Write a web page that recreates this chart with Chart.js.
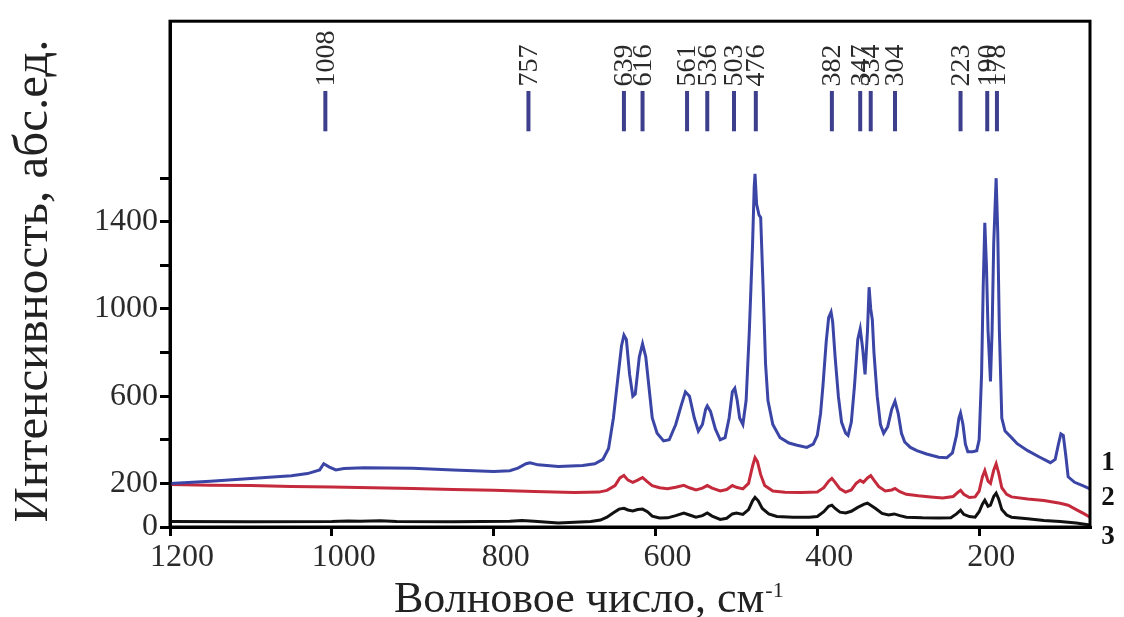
<!DOCTYPE html>
<html>
<head>
<meta charset="utf-8">
<script src="https://cdn.jsdelivr.net/npm/chart.js@4/dist/chart.umd.min.js"></script>
<style>
  html, body { margin: 0; padding: 0; background: #fff; }
  #wrap { width: 1124px; height: 617px; }
</style>
</head>
<body>
<div id="wrap"><canvas id="spectrum" width="1124" height="617"></canvas></div>
<script>
// Spectrum 1 (blue)
const wave1 = [1200, 1150, 1100, 1050, 1030, 1015, 1010, 1003, 995, 985, 960, 900, 850, 800, 780, 770, 760, 755, 745, 720, 690, 675, 665, 658, 652, 646, 642, 639, 636, 632, 628, 625, 620, 616, 612, 608, 604, 598, 590, 583, 575, 568, 563, 558, 552, 547, 542, 538, 536, 532, 526, 520, 514, 509, 505, 502, 499, 496, 492, 488, 484, 480, 478, 477, 475, 472, 470, 467, 464, 461, 455, 446, 435, 425, 413, 405, 400, 396, 393, 389, 386, 383, 381, 378, 374, 370, 365, 362, 358, 354, 350, 347, 344, 341, 338, 336, 334, 332, 330, 326, 322, 318, 313, 308, 304, 300, 296, 292, 285, 277, 265, 250, 240, 233, 228, 225, 223, 220, 217, 214, 208, 203, 200, 197, 195, 193, 191, 189, 186, 184, 182, 180, 179, 177, 175, 172, 168, 160, 153, 140, 125, 112, 106, 102, 99, 96, 93, 90, 82, 72, 63];
const int1 = [200, 210, 222, 235, 245, 262, 290, 275, 262, 268, 272, 270, 262, 255, 258, 270, 290, 295, 285, 278, 282, 290, 310, 360, 500, 700, 830, 880, 860, 700, 600, 610, 780, 840, 780, 640, 500, 430, 395, 400, 470, 560, 620, 600, 500, 440, 470, 540, 555, 530, 450, 400, 410, 500, 620, 636, 580, 500, 470, 580, 900, 1300, 1560, 1620, 1480, 1430, 1420, 1100, 750, 580, 470, 410, 385, 375, 365, 380, 420, 520, 650, 850, 960, 986, 940, 780, 600, 480, 430, 420, 480, 650, 860, 909, 820, 700, 900, 1100, 1000, 950, 800, 600, 470, 430, 460, 540, 577, 520, 430, 390, 365, 350, 335, 320, 318, 340, 420, 500, 523, 470, 380, 345, 345, 350, 400, 700, 1100, 1395, 1200, 900, 668, 900, 1300, 1500, 1600, 1350, 900, 500, 440, 410, 382, 350, 320, 295, 310, 380, 427, 420, 330, 230, 205, 190, 175];

// Spectrum 2 (red)
const wave2 = [1200, 1150, 1100, 1050, 1000, 950, 900, 850, 800, 750, 700, 670, 660, 650, 644, 639, 634, 628, 622, 616, 611, 604, 595, 585, 575, 565, 558, 550, 542, 536, 530, 520, 512, 505, 500, 492, 485, 480, 477, 474, 470, 465, 455, 440, 420, 400, 392, 386, 382, 378, 372, 365, 358, 352, 347, 343, 338, 334, 330, 324, 316, 308, 304, 298, 290, 275, 260, 245, 232, 226, 223, 219, 212, 205, 200, 196, 193, 189, 186, 182, 179, 176, 172, 166, 160, 140, 120, 100, 90, 80, 70, 63];
const int2 = [195, 192, 190, 186, 183, 180, 177, 172, 168, 163, 158, 160, 168, 190, 225, 236, 215, 205, 215, 227, 210, 190, 180, 175, 182, 191, 180, 170, 178, 190, 178, 165, 172, 190, 182, 175, 200, 280, 318, 300, 240, 190, 165, 159, 158, 160, 180, 210, 223, 205, 175, 160, 170, 200, 214, 205, 225, 236, 215, 185, 165, 170, 177, 162, 150, 143, 138, 133, 140, 160, 168, 150, 135, 138, 165, 230, 259, 210, 200, 260, 290, 250, 180, 150, 138, 128, 122, 109, 100, 80, 60, 45];

// Spectrum 3 (black)
const wave3 = [1200, 1100, 1000, 980, 965, 940, 920, 850, 780, 765, 750, 720, 700, 680, 668, 660, 652, 645, 639, 634, 628, 622, 616, 610, 604, 595, 585, 575, 565, 558, 550, 542, 536, 530, 520, 512, 505, 500, 492, 485, 480, 477, 473, 468, 460, 450, 430, 410, 400, 392, 386, 382, 378, 372, 365, 358, 350, 342, 338, 334, 328, 320, 312, 305, 298, 290, 270, 250, 235, 228, 223, 219, 212, 205, 200, 196, 193, 189, 186, 182, 179, 176, 172, 166, 160, 140, 120, 100, 80, 63];
const int3 = [25, 24, 25, 28, 26, 29, 25, 24, 26, 30, 26, 18, 22, 25, 32, 45, 65, 82, 86, 78, 74, 80, 82, 70, 50, 41, 42, 52, 64, 55, 45, 52, 64, 50, 35, 40, 60, 64, 58, 80, 120, 136, 120, 85, 60, 48, 45, 45, 48, 70, 95, 100, 85, 68, 64, 72, 90, 105, 109, 100, 85, 62, 55, 60, 52, 45, 42, 41, 42, 60, 77, 58, 48, 45, 70, 105, 123, 95, 100, 140, 155, 130, 80, 55, 45, 38, 30, 25, 18, 9];

// Peak positions marked at the top
const peakLabels = [1008, 757, 639, 616, 561, 536, 503, 476, 382, 347, 334, 304, 223, 190, 178];

// Axis ticks
const xTicks = [1200, 1000, 800, 600, 400, 200];
const yTicks = [0, 200, 400, 600, 800, 1000, 1200, 1400, 1600];
const yTickLabels = [0, 200, 600, 1000, 1400];

// Curve numbers on the right
const curveNames = ['1', '2', '3'];
const curveNameLevels = [295, 135, -45];

const serif = '"Liberation Serif", "DejaVu Serif", serif';

function toPoints(xs, ys) {
  return xs.map((x, i) => ({ x: x, y: ys[i] }));
}

// draws frame, peak markers, titles and curve numbers
const decorPlugin = {
  id: 'decor',
  afterDraw(chart) {
    const ctx = chart.ctx;
    const area = chart.chartArea;
    const xs = chart.scales.x;
    const ys = chart.scales.y;
    ctx.save();

    // frame
    ctx.strokeStyle = '#000';
    ctx.lineWidth = 3;
    ctx.strokeRect(area.left, area.top, area.right - area.left, area.bottom - area.top);

    // peak markers
    ctx.strokeStyle = '#3d3f8c';
    ctx.lineWidth = 4;
    peakLabels.forEach(p => {
      const px = xs.getPixelForValue(p);
      ctx.beginPath();
      ctx.moveTo(px, ys.getPixelForValue(1815));
      ctx.lineTo(px, ys.getPixelForValue(2000));
      ctx.stroke();
    });

    // peak labels, rotated
    ctx.fillStyle = '#2a2a2a';
    ctx.font = '28px ' + serif;
    ctx.textAlign = 'left';
    ctx.textBaseline = 'middle';
    peakLabels.forEach(p => {
      const px = xs.getPixelForValue(p);
      ctx.save();
      ctx.translate(px + 1, ys.getPixelForValue(2020));
      ctx.rotate(-Math.PI / 2);
      ctx.fillText(String(p), 0, 0);
      ctx.restore();
    });

    // curve numbers
    ctx.fillStyle = '#111';
    ctx.font = 'bold 27px ' + serif;
    ctx.textAlign = 'center';
    curveNames.forEach((n, i) => {
      ctx.fillText(n, area.right + 18, ys.getPixelForValue(curveNameLevels[i]));
    });

    // y title
    ctx.fillStyle = '#222';
    ctx.font = '49px ' + serif;
    ctx.save();
    ctx.translate(34, 281);
    ctx.rotate(-Math.PI / 2);
    ctx.textAlign = 'center';
    ctx.textBaseline = 'middle';
    ctx.fillText('Интенсивность, абс.ед.', 0, 0);
    ctx.restore();

    // x title with superscript
    const main = 'Волновое число, см';
    ctx.textAlign = 'left';
    ctx.textBaseline = 'alphabetic';
    ctx.font = '44px ' + serif;
    const w = ctx.measureText(main).width;
    ctx.fillText(main, 394, 612);
    ctx.font = '22px ' + serif;
    ctx.fillText('-1', 394 + w + 1, 597);

    ctx.restore();
  }
};

const ctx = document.getElementById('spectrum').getContext('2d');

new Chart(ctx, {
  type: 'line',
  data: {
    datasets: [
      { data: toPoints(wave1, int1), borderColor: '#3b45a6', borderWidth: 3 },
      { data: toPoints(wave2, int2), borderColor: '#c42a3c', borderWidth: 3 },
      { data: toPoints(wave3, int3), borderColor: '#111111', borderWidth: 3 }
    ]
  },
  options: {
    responsive: false,
    animation: false,
    events: [],
    elements: { point: { radius: 0 }, line: { tension: 0 } },
    layout: { padding: { top: 13, right: 34, left: 0, bottom: 0 } },
    plugins: { legend: { display: false }, tooltip: { enabled: false } },
    scales: {
      x: {
        type: 'linear',
        reverse: true,
        min: 63,
        max: 1200,
        afterBuildTicks(scale) { scale.ticks = xTicks.map(v => ({ value: v })); },
        afterFit(scale) { scale.height = 90; },
        grid: { drawOnChartArea: false, color: '#000', lineWidth: 3, tickLength: 9 },
        border: { display: true, color: '#000', width: 3 },
        ticks: {
          autoSkip: false,
          maxRotation: 0,
          labelOffset: 12,
          padding: 2,
          color: '#2a2a2a',
          font: { family: serif, size: 32 },
          callback: v => String(v)
        }
      },
      y: {
        type: 'linear',
        min: 0,
        max: 2320,
        afterBuildTicks(scale) { scale.ticks = yTicks.map(v => ({ value: v })); },
        afterFit(scale) { scale.width = 170; },
        grid: { drawOnChartArea: false, color: '#000', lineWidth: 3, tickLength: 10 },
        border: { display: true, color: '#000', width: 3 },
        ticks: {
          autoSkip: false,
          padding: 2,
          color: '#2a2a2a',
          font: { family: serif, size: 32 },
          callback: v => (yTickLabels.includes(v) ? String(v) : '')
        }
      }
    }
  },
  plugins: [decorPlugin]
});
</script>
</body>
</html>
